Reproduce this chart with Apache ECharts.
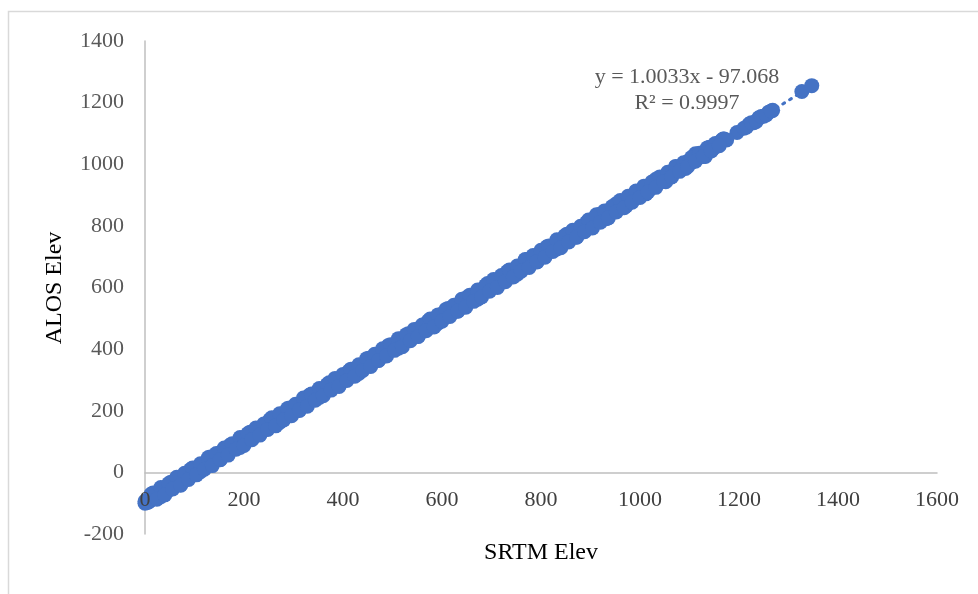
<!DOCTYPE html>
<html>
<head>
<meta charset="utf-8">
<script src="https://cdn.jsdelivr.net/npm/echarts@6/dist/echarts.min.js"></script>
<style>
html,body{margin:0;padding:0;background:#fff;}
#chart{width:978px;height:594px;}
</style>
</head>
<body>
<div id="chart"></div>
<script>
// SRTM (x) and ALOS (y) elevations
const srtmElev = [
0,2,3,8,12,18,
0,10,20,30,40,50,60,70,80,90,100,110,120,130,140,150,160,170,180,190,200,210,220,230,240,250,260,270,280,290,300,310,320,330,340,350,360,370,380,390,400,410,420,430,440,450,460,470,480,490,500,510,520,530,540,550,560,570,580,590,600,610,620,630,640,650,660,670,680,690,700,710,720,730,740,750,760,770,780,790,800,810,820,830,840,850,860,870,880,890,900,910,920,930,940,950,960,970,980,990,1000,1010,1020,1030,1040,1050,1060,1070,1080,1090,1100,1110,1120,1130,1140,1150,1160,1170,1196,1210,1220,1230,1240,1250,1260,1268,1327,1347,
5,15,25,35,45,55,65,75,85,95,105,115,125,135,145,155,165,175,185,195,205,215,225,235,245,255,265,275,285,295,305,315,325,335,345,355,365,375,385,395,405,415,425,435,445,455,465,475,485,495,505,515,525,535,545,555,565,575,585,595,605,615,625,635,645,655,665,675,685,695,705,715,725,735,745,755,765,775,785,795,805,815,825,835,845,855,865,875,885,895,905,915,925,935,945,955,965,975,985,995,1005,1015,1025,1035,1045,1055,1065,1075,1085,1095,1105,1115,1125,1135,1145,1155,1165,1175,1215,1225,1235,1245,1255,1265,
12,32,52,72,92,112,132,152,172,192,212,232,252,272,292,312,332,352,372,392,412,432,452,472,492,512,532,552,572,592,612,632,652,672,692,712,732,752,772,792,812,832,852,872,892,912,932,952,972,992,1012,1032,1052,1072,1092,1112,1132,
16,32,48,64,80,96,112,128,144,160,176,192,208,224,240,256,272,288,304,320,336,352,368,384,400,416,432,448,464,480,496,512,528,544,560,576,592,608,624,640,656,672,688,704,720,736,752,768,784,800,816,832,848,864,880,896,912,928,944,960,976,992,1008,1024,1040,1056,1072,1088,1104,1120,1136,1152,1168,
24,40,56,72,88,104,120,136,152,168,184,200,216,232,248,264,280,296,312,328,344,360,376,392,408,424,440,456,472,488,504,520,536,552,568,584,600,616,632,648,664,680,696,712,728,744,760,776,792,808,824,840,856,872,888,904,920,936,952,968,984,1000,1016,1032,1048,1064,1080,1096,1112,1128,1144,1160
];
const alosElev = [
-100,-97,-92,-95,-85,-83,
-94,-92,-69,-69,-57,-41,-44,-25,-20,3,-1,14,28,27,45,52,71,71,88,86,106,120,122,135,139,162,167,170,184,199,201,216,231,232,248,248,265,283,283,297,300,320,326,329,345,363,363,379,382,400,405,409,428,442,444,457,461,481,486,492,514,513,528,540,541,557,572,574,588,607,602,616,630,633,649,650,667,682,683,697,710,714,732,736,742,761,774,775,789,793,808,826,838,834,849,852,871,877,883,902,908,911,930,943,944,959,962,982,988,994,1011,1023,1025,1040,1055,1054,1069,1082,1103,1117,1130,1135,1151,1156,1169,1175,1236,1255,
-98,-73,-80,-58,-61,-35,-36,-13,-19,3,0,25,19,42,41,67,64,85,80,103,102,128,123,144,141,163,162,187,184,202,201,224,223,247,245,265,262,283,281,306,304,324,322,346,344,369,365,385,382,406,406,427,423,444,444,468,465,483,482,506,504,525,523,548,545,564,562,586,586,607,604,624,622,646,645,668,666,686,684,705,705,728,726,744,744,767,767,788,785,805,806,835,827,846,844,867,866,885,884,906,907,927,925,946,946,968,968,986,986,1007,1007,1025,1026,1046,1047,1066,1078,1079,1120,1135,1139,1155,1160,1173,
-71,-79,-32,-40,9,2,50,41,89,81,130,123,171,162,209,201,250,243,291,282,329,321,370,364,412,403,450,442,491,484,532,523,570,562,613,604,652,643,691,683,732,725,773,764,811,836,823,872,865,913,904,951,943,993,986,1034,1025,
-67,-49,-36,-16,-3,14,28,48,61,79,93,113,126,144,157,177,190,207,221,241,254,272,285,305,318,335,349,369,383,401,414,434,447,464,478,498,511,529,542,562,575,592,606,626,639,657,670,691,704,721,735,755,768,786,799,819,833,848,863,882,896,911,929,942,959,974,991,1005,1022,1036,1053,1067,1082,
-87,-73,-54,-42,-23,-8,10,22,42,56,75,87,106,121,139,151,170,184,203,215,234,249,267,279,298,312,331,344,363,378,396,408,427,441,460,472,491,506,524,536,555,569,588,600,619,634,653,665,684,698,717,729,748,763,781,793,812,826,845,859,877,892,910,925,944,959,977,992,1010,1025,1043,1060
];
// Linear trendline shown in the chart
const trendSlope = 1.0033;
const trendIntercept = -97.068;
const trendLabel = ['y = 1.0033x - 97.068', 'R² = 0.9997'];
const xTicks = {min: 0, max: 1600, interval: 200};
const yTicks = {min: -200, max: 1400, interval: 200};

const points = srtmElev.map((x, i) => [x, alosElev[i]]);
const xMin = Math.min(...srtmElev), xMax = Math.max(...srtmElev);
const trendPts = [[xMin, trendSlope * xMin + trendIntercept], [xMax, trendSlope * xMax + trendIntercept]];

const FONT = "'Times New Roman', 'Liberation Serif', serif";
const W = 978, H = 594;
const grid = {left: 145, right: 41, top: 41, bottom: 60};
const gridH = H - grid.top - grid.bottom;
const zeroOffset = -(0 - yTicks.min) / (yTicks.max - yTicks.min) * gridH;

const xBase = {
  type: 'value', min: xTicks.min, max: xTicks.max, interval: xTicks.interval,
  position: 'bottom', offset: zeroOffset,
  axisTick: {show: false},
  splitLine: {show: false}
};

const chart = echarts.init(document.getElementById('chart'), null, {renderer: 'canvas'});
chart.setOption({
  animation: false,
  backgroundColor: '#ffffff',
  grid: Object.assign({containLabel: false}, grid),
  xAxis: [
    Object.assign({}, xBase, {
      z: 0,
      axisLine: {show: true, onZero: false, lineStyle: {color: '#bfbfbf', width: 1.5}},
      axisLabel: {show: false}
    }),
    Object.assign({}, xBase, {
      z: 10,
      axisLine: {show: false, onZero: false},
      axisLabel: {color: '#404040', fontFamily: FONT, fontSize: 22, margin: 17, showMinLabel: true, showMaxLabel: true, hideOverlap: false, formatter: v => String(v)}
    })
  ],
  yAxis: {
    type: 'value', min: yTicks.min, max: yTicks.max, interval: yTicks.interval,
    axisLine: {show: true, onZero: false, lineStyle: {color: '#bfbfbf', width: 1.5}},
    axisTick: {show: false},
    splitLine: {show: false},
    axisLabel: {color: '#595959', fontFamily: FONT, fontSize: 22, margin: 21, showMinLabel: true, showMaxLabel: true, formatter: v => String(v)}
  },
  series: [
    {
      type: 'line', data: trendPts, symbol: 'none', z: 1, xAxisIndex: 0,
      lineStyle: {color: '#4472C4', width: 3, type: [2, 6], cap: 'round'}
    },
    {
      type: 'scatter', data: points, symbolSize: 15, z: 2, xAxisIndex: 0,
      itemStyle: {color: '#4472C4', opacity: 1, borderWidth: 0}
    }
  ],
  graphic: [
    {type: 'rect', silent: true, z: -10, shape: {x: 8.5, y: 11.5, width: 1200, height: 1200},
      style: {fill: 'none', stroke: '#d9d9d9', lineWidth: 1.5}},
    {type: 'text', x: 687, y: 77, style: {text: trendLabel[0], font: '22px ' + FONT, fill: '#595959', textAlign: 'center', textVerticalAlign: 'middle'}},
    {type: 'text', x: 687, y: 103, style: {text: trendLabel[1], font: '22px ' + FONT, fill: '#595959', textAlign: 'center', textVerticalAlign: 'middle'}},
    {type: 'text', x: 541, y: 553, style: {text: 'SRTM Elev', font: '24px ' + FONT, fill: '#000000', textAlign: 'center', textVerticalAlign: 'middle'}},
    {type: 'text', x: 55, y: 288, rotation: Math.PI / 2, style: {text: 'ALOS Elev', font: '24px ' + FONT, fill: '#000000', textAlign: 'center', textVerticalAlign: 'middle'}}
  ]
});
</script>
</body>
</html>
